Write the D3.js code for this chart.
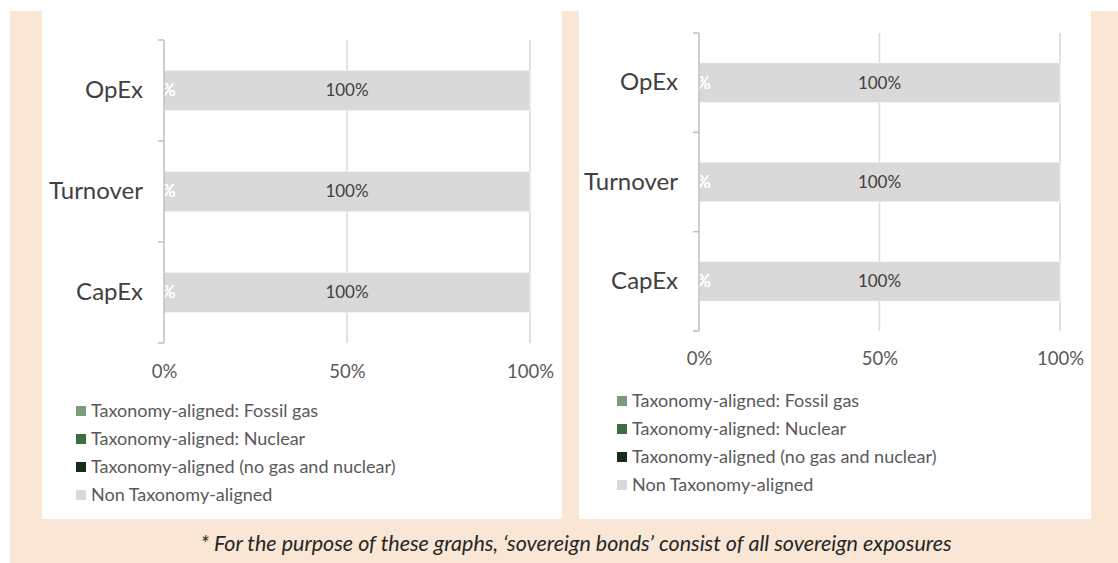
<!DOCTYPE html>

<head>
    <meta charset="utf-8">
    <title>Taxonomy alignment</title>
    <script src="https://d3js.org/d3.v7.min.js"></script>
    <style>
        body { margin: 0; background: #fff; }
        svg { display: block; font-family: Lato, "Noto Sans", sans-serif; }
    </style>
</head>

<body>
    <div id="container"></div>
    <script>

        //------------------------1. DATA------------------------//
        var categories = ["OpEx", "Turnover", "CapEx"];
        var seriesNames = ["Taxonomy-aligned: Fossil gas", "Taxonomy-aligned: Nuclear",
            "Taxonomy-aligned (no gas and nuclear)", "Non Taxonomy-aligned"];
        var seriesColors = ["#7b9b7b", "#3f6d42", "#172c1a", "#d9d9d9"];
        var xTicks = [0, 50, 100];

        // left chart
        var leftFossilGas = [0, 0, 0];
        var leftNuclear = [0, 0, 0];
        var leftAligned = [0, 0, 0];
        var leftNonAligned = [100, 100, 100];

        // right chart
        var rightFossilGas = [0, 0, 0];
        var rightNuclear = [0, 0, 0];
        var rightAligned = [0, 0, 0];
        var rightNonAligned = [100, 100, 100];

        var caption = "* For the purpose of these graphs, \u2018sovereign bonds\u2019 consist of all sovereign exposures";

        //------------------------2. LAYOUT------------------------//
        var W = 1118, H = 563;
        var panels = [
            {
                box: [42, 11, 562, 519],
                plot: { left: 164, right: 530, top: 40, bottom: 343 },
                tickY: 372, legendX: 76, legendY: 411,
                series: [leftFossilGas, leftNuclear, leftAligned, leftNonAligned]
            },
            {
                box: [579, 11, 1091, 519],
                plot: { left: 699, right: 1060, top: 33, bottom: 331 },
                tickY: 359, legendX: 617, legendY: 401,
                series: [rightFossilGas, rightNuclear, rightAligned, rightNonAligned]
            }
        ];

        var svg = d3.select("#container").append("svg")
            .attr("width", W).attr("height", H);

        // peach frame
        svg.append("rect")
            .attr("x", 10).attr("y", 11)
            .attr("width", W - 10).attr("height", H - 11)
            .attr("fill", "#f9e6d5");

        function drawPanel(p) {
            var g = svg.append("g");

            g.append("rect")
                .attr("x", p.box[0]).attr("y", p.box[1])
                .attr("width", p.box[2] - p.box[0]).attr("height", p.box[3] - p.box[1])
                .attr("fill", "#fff");

            var x = d3.scaleLinear().domain([0, 100]).range([p.plot.left, p.plot.right]);
            var y = d3.scaleBand().domain(categories)
                .range([p.plot.top, p.plot.bottom])
                .paddingInner(0.6).paddingOuter(0.3);

            // stack data
            var rows = categories.map(function (c, i) {
                var r = { category: c };
                seriesNames.forEach(function (s, j) { r[s] = p.series[j][i]; });
                return r;
            });
            var stackOrder = [2, 1, 0, 3].map(function (j) { return seriesNames[j]; });
            var stacked = d3.stack().keys(stackOrder)(rows);

            //-----------------------------GRID-----------------------------//
            g.append("g")
                .selectAll("line")
                .data(xTicks.slice(1))
                .join("line")
                .attr("x1", d => x(d)).attr("x2", d => x(d))
                .attr("y1", p.plot.top).attr("y2", p.plot.bottom)
                .attr("stroke", "#d9d9d9")
                .attr("stroke-width", 1.5);

            //-----------------------------BARS-----------------------------//
            var layer = g.append("g")
                .selectAll("g")
                .data(stacked)
                .join("g")
                .attr("fill", d => seriesColors[seriesNames.indexOf(d.key)]);

            layer.selectAll("rect")
                .data(d => d)
                .join("rect")
                .attr("x", d => x(d[0]))
                .attr("y", d => y(d.data.category))
                .attr("width", d => x(d[1]) - x(d[0]))
                .attr("height", y.bandwidth())
                .attr("stroke", "#fff")
                .attr("stroke-opacity", 0.6)
                .attr("stroke-width", 1);

            // labels
            stacked.forEach(function (s) {
                var isNon = s.key === seriesNames[3];
                g.append("g")
                    .selectAll("text")
                    .data(s)
                    .join("text")
                    .attr("x", d => x((d[0] + d[1]) / 2))
                    .attr("y", d => y(d.data.category) + y.bandwidth() / 2)
                    .attr("dy", "0.35em")
                    .attr("text-anchor", "middle")
                    .attr("font-size", 17)
                    .attr("fill", isNon ? "#404040" : "#ffffff")
                    .text(d => (d[1] - d[0]) + "%");
            });

            //-----------------------------AXES-----------------------------//
            var bounds = categories.map(c => y(c) - y.step() * y.paddingInner() / 2)
                .concat([p.plot.bottom]);

            g.append("line")
                .attr("x1", x(0)).attr("x2", x(0))
                .attr("y1", p.plot.top).attr("y2", p.plot.bottom)
                .attr("stroke", "#bfbfbf").attr("stroke-width", 1.5);

            g.append("g")
                .selectAll("line")
                .data(bounds)
                .join("line")
                .attr("x1", x(0) - 6).attr("x2", x(0))
                .attr("y1", d => d).attr("y2", d => d)
                .attr("stroke", "#bfbfbf").attr("stroke-width", 1.5);

            var yAxis = g.append("g")
                .attr("transform", "translate(" + x(0) + ",0)")
                .call(d3.axisLeft(y).tickSize(0).tickPadding(21));
            yAxis.select(".domain").remove();
            yAxis.selectAll("text")
                .attr("font-family", "Lato, sans-serif")
                .attr("font-size", 24)
                .attr("fill", "#404040");

            var xAxis = g.append("g")
                .attr("transform", "translate(0," + p.tickY + ")")
                .call(d3.axisBottom(x).tickValues(xTicks).tickSize(0).tickPadding(0)
                    .tickFormat(d => d + "%"));
            xAxis.select(".domain").remove();
            xAxis.selectAll("text")
                .attr("dy", "0.35em")
                .attr("font-family", "Lato, sans-serif")
                .attr("font-size", 18.5)
                .attr("fill", "#595959");

            //----------------------------LEGEND-----------------------------//
            var legend = g.selectAll(".legend")
                .data(seriesNames)
                .join("g")
                .attr("class", "legend")
                .attr("transform", (d, i) => "translate(" + p.legendX + "," + (p.legendY + i * 28) + ")");

            legend.append("rect")
                .attr("x", 0).attr("y", -5)
                .attr("width", 10).attr("height", 10)
                .attr("fill", (d, i) => seriesColors[i]);

            legend.append("text")
                .attr("x", 15)
                .attr("dy", "0.35em")
                .attr("font-size", 18)
                .attr("fill", "#595959")
                .text(d => d);
        }

        panels.forEach(drawPanel);

        svg.append("text")
            .attr("x", 576).attr("y", 543)
            .attr("dy", "0.35em")
            .attr("text-anchor", "middle")
            .attr("font-style", "italic")
            .attr("font-size", 21.5)
            .attr("fill", "#262626")
            .text(caption);

    </script>
</body>
